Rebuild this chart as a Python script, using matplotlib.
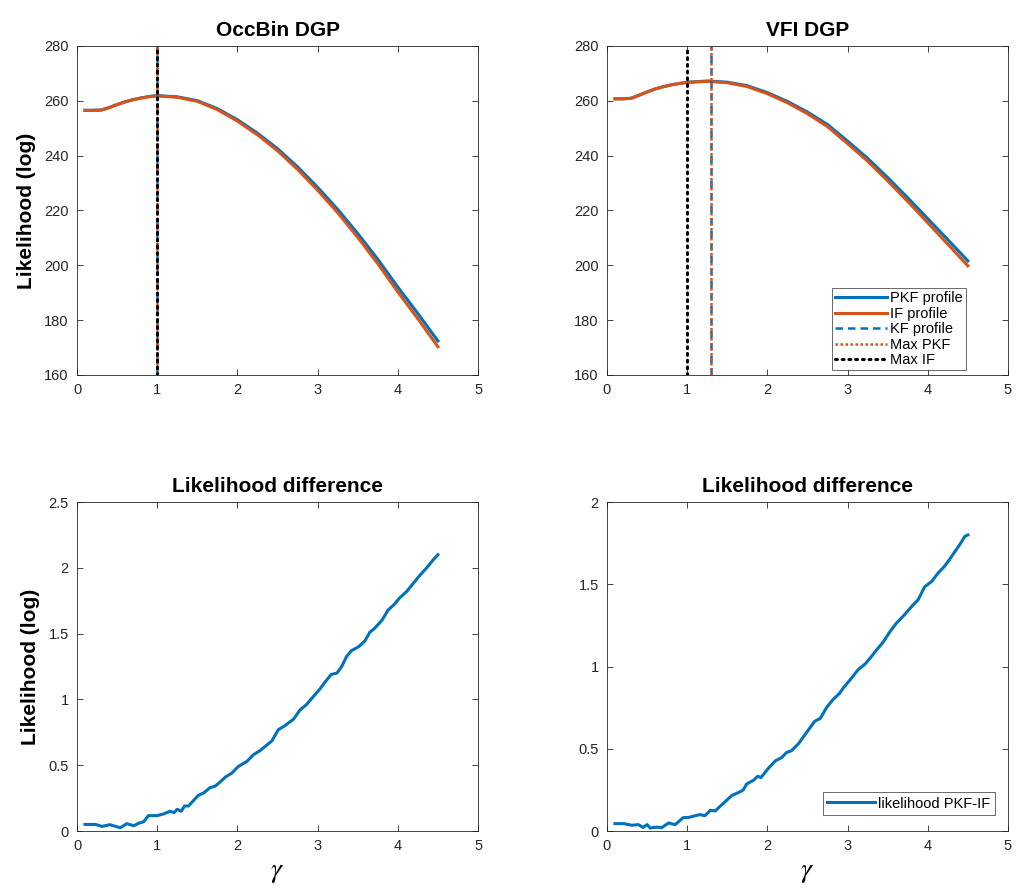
import numpy as np
import matplotlib
matplotlib.use('Agg')
import matplotlib.pyplot as plt

plt.rcParams['font.family'] = ['Liberation Sans', 'DejaVu Sans']
plt.rcParams['mathtext.fontset'] = 'stix'

BLUE = '#0072BD'
ORANGE = '#D95319'
GREY = '#262626'

# profile grid
gamma_prof = [0.1, 0.2, 0.3, 0.4, 0.5, 0.6, 0.7, 0.8, 0.9, 1.0, 1.25, 1.5, 1.75,
              2.0, 2.25, 2.5, 2.75, 3.0, 3.25, 3.5, 3.75, 4.0, 4.25, 4.5]

# OccBin DGP
pkf_occ = [256.55, 256.55, 256.65, 257.55, 258.65, 259.65, 260.45, 261.07, 261.6, 261.9,
           261.45, 260.07, 257.15, 253.1, 248.2, 242.55, 235.9, 228.45, 220.4, 211.6,
           202.2, 192.05, 182.4, 172.4]
if_occ = [256.5, 256.5, 256.6, 257.5, 258.6, 259.6, 260.4, 261.0, 261.5, 261.8,
          261.3, 259.8, 256.8, 252.6, 247.6, 241.8, 235.0, 227.4, 219.2, 210.2,
          200.6, 190.3, 180.5, 170.3]
max_pkf_occ = 1.0
max_if_occ = 1.0
max_kf_occ = 1.0

# VFI DGP
pkf_vfi = [260.75, 260.75, 260.95, 262.05, 263.25, 264.33, 265.13, 265.83, 266.34, 266.78,
           267.22, 266.8, 265.5, 263.0, 259.77, 255.9, 251.36, 245.3, 239.03, 232.0,
           224.63, 217.0, 209.34, 201.6]
if_vfi = [260.7, 260.7, 260.9, 262.0, 263.2, 264.3, 265.1, 265.8, 266.3, 266.7,
          267.1, 266.6, 265.2, 262.6, 259.3, 255.3, 250.6, 244.4, 238.0, 230.8,
          223.3, 215.5, 207.7, 199.8]
max_pkf_vfi = 1.3
max_if_vfi = 1.0
max_kf_vfi = 1.3

# likelihood differences PKF - IF
gamma_d_occ = [0.10, 0.23, 0.31, 0.41, 0.54, 0.62, 0.71, 0.77, 0.83, 0.89, 1.00, 1.08, 1.16, 1.21,
               1.25, 1.30, 1.34, 1.39, 1.51, 1.58, 1.66, 1.72, 1.78, 1.85, 1.93, 2.01, 2.12, 2.20,
               2.28, 2.34, 2.43, 2.51, 2.59, 2.70, 2.78, 2.86, 2.93, 3.03, 3.09, 3.17, 3.24, 3.30,
               3.36, 3.42, 3.51, 3.59, 3.65, 3.71, 3.80, 3.88, 3.96, 4.02, 4.11, 4.19, 4.27, 4.36,
               4.44, 4.50]
diff_occ = [0.05, 0.05, 0.035, 0.048, 0.025, 0.056, 0.04, 0.06, 0.07, 0.117, 0.117, 0.13, 0.15, 0.14,
            0.165, 0.15, 0.19, 0.19, 0.27, 0.29, 0.33, 0.34, 0.37, 0.41, 0.44, 0.49, 0.53, 0.58,
            0.61, 0.64, 0.685, 0.77, 0.80, 0.85, 0.92, 0.96, 1.01, 1.08, 1.13, 1.19, 1.20, 1.25,
            1.325, 1.37, 1.40, 1.445, 1.51, 1.54, 1.60, 1.68, 1.725, 1.77, 1.82, 1.88, 1.94, 2.0,
            2.06, 2.10]

gamma_d_vfi = [0.10, 0.21, 0.31, 0.39, 0.45, 0.50, 0.54, 0.62, 0.68, 0.77, 0.85, 0.95, 1.02, 1.10,
               1.16, 1.22, 1.29, 1.35, 1.41, 1.47, 1.56, 1.64, 1.70, 1.74, 1.83, 1.88, 1.92, 2.01,
               2.10, 2.18, 2.24, 2.30, 2.39, 2.49, 2.59, 2.66, 2.74, 2.82, 2.90, 2.95, 3.05, 3.13,
               3.22, 3.28, 3.36, 3.44, 3.53, 3.61, 3.71, 3.80, 3.88, 3.96, 4.05, 4.13, 4.21, 4.27,
               4.34, 4.40, 4.46, 4.50]
diff_vfi = [0.045, 0.045, 0.035, 0.039, 0.022, 0.039, 0.018, 0.024, 0.02, 0.049, 0.039, 0.081, 0.083,
            0.093, 0.10, 0.093, 0.126, 0.122, 0.15, 0.177, 0.217, 0.234, 0.25, 0.285, 0.31, 0.333,
            0.325, 0.38, 0.427, 0.447, 0.478, 0.488, 0.532, 0.60, 0.667, 0.685, 0.752, 0.80, 0.837,
            0.872, 0.93, 0.98, 1.016, 1.05, 1.10, 1.146, 1.213, 1.264, 1.315, 1.366, 1.406, 1.484,
            1.518, 1.569, 1.61, 1.65, 1.70, 1.742, 1.79, 1.80]

x_ticks = [0, 1, 2, 3, 4, 5]
prof_ylim = (160, 280)
prof_yticks = [160, 180, 200, 220, 240, 260, 280]


def style_axes(ax):
    ax.tick_params(direction='in', top=True, right=True, labelsize=10.5,
                   colors=GREY, length=4, width=0.6, pad=6)
    for s in ax.spines.values():
        s.set_color(GREY)
        s.set_linewidth(0.6)
    ax.set_xlim(0, 5)
    ax.set_xticks(x_ticks)


fig = plt.figure(figsize=(10.16, 8.93), dpi=100)
ax1 = fig.add_axes([0.0758, 0.5801, 0.3947, 0.3684])
ax2 = fig.add_axes([0.5974, 0.5801, 0.3947, 0.3684])
ax3 = fig.add_axes([0.0758, 0.0694, 0.3947, 0.3684])
ax4 = fig.add_axes([0.5974, 0.0694, 0.3947, 0.3684])

for ax, pkf, iff, mk, mp, mi, title in [
        (ax1, pkf_occ, if_occ, max_kf_occ, max_pkf_occ, max_if_occ, 'OccBin DGP'),
        (ax2, pkf_vfi, if_vfi, max_kf_vfi, max_pkf_vfi, max_if_vfi, 'VFI DGP')]:
    ax.plot(gamma_prof, pkf, color=BLUE, lw=2.2, label='PKF profile')
    ax.plot(gamma_prof, iff, color=ORANGE, lw=2.2, label='IF profile')
    ax.plot([mk, mk], prof_ylim, color=BLUE, lw=1.8, ls=(0, (3, 2)), label='KF profile')
    ax.plot([mp, mp], prof_ylim, color=ORANGE, lw=1.8, ls=(0, (1, 1)), label='Max PKF')
    ax.plot([mi, mi], prof_ylim, color='black', lw=2.2, ls=(0, (0.6, 1.6)),
            dash_capstyle='round', label='Max IF')
    ax.set_ylim(*prof_ylim)
    ax.set_yticks(prof_yticks)
    style_axes(ax)
    ax.set_title(title, fontsize=15, fontweight='bold', pad=7)

ax1.set_ylabel('Likelihood (log)', fontsize=15, fontweight='bold', labelpad=6)
leg = ax2.legend(loc='lower right', bbox_to_anchor=(0.895, 0.015), fontsize=10.5, frameon=True,
                 fancybox=False, edgecolor=GREY, handlelength=3.6, borderpad=0.2,
                 labelspacing=0.1, handletextpad=0.2, borderaxespad=0)
leg.get_frame().set_linewidth(0.6)

ax3.plot(gamma_d_occ, diff_occ, color=BLUE, lw=2.2)
ax3.set_ylim(0, 2.5)
ax3.set_yticks([0, 0.5, 1, 1.5, 2, 2.5])
ax3.set_yticklabels(['0', '0.5', '1', '1.5', '2', '2.5'])
style_axes(ax3)
ax3.set_title('Likelihood difference', fontsize=15, fontweight='bold', pad=7)
ax3.set_ylabel('Likelihood (log)', fontsize=15, fontweight='bold', labelpad=6)
ax3.set_xlabel(r'$\gamma$', fontsize=20, labelpad=4)

ax4.plot(gamma_d_vfi, diff_vfi, color=BLUE, lw=2.2, label='likelihood PKF-IF')
ax4.set_ylim(0, 2)
ax4.set_yticks([0, 0.5, 1, 1.5, 2])
ax4.set_yticklabels(['0', '0.5', '1', '1.5', '2'])
style_axes(ax4)
ax4.set_title('Likelihood difference', fontsize=15, fontweight='bold', pad=7)
ax4.set_xlabel(r'$\gamma$', fontsize=20, labelpad=4)
leg2 = ax4.legend(loc='lower right', bbox_to_anchor=(0.9675, 0.049), fontsize=10.5, frameon=True,
                  fancybox=False, edgecolor=GREY, handlelength=3.3, borderpad=0.3,
                  handletextpad=0.2, borderaxespad=0)
leg2.get_frame().set_linewidth(0.6)

fig.savefig('out.png', dpi=100, facecolor='white')
